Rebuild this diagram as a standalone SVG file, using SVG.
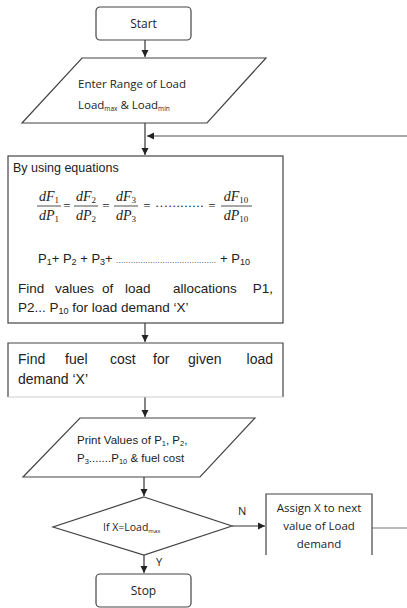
<svg xmlns="http://www.w3.org/2000/svg" width="407" height="608" viewBox="0 0 407 608">
<defs>
<marker id="ah" markerWidth="8" markerHeight="8" refX="7" refY="4" orient="auto" markerUnits="userSpaceOnUse">
<path d="M0,0.5 L7,4 L0,7.5 Z" fill="#222"/>
</marker>
<style>
.sh{fill:#fff;stroke:#444;stroke-width:1.2}
.c{fill:none;stroke:#333;stroke-width:1.2}
.cal{font-family:"Open Sans","Liberation Sans",sans-serif;fill:#222}
.ar{font-family:"Liberation Sans",Arial,sans-serif;fill:#222}
.m{font-family:"Liberation Serif","Times New Roman",serif;font-style:italic;fill:#222;font-size:14px}
.mn{font-family:"Liberation Serif","Times New Roman",serif;fill:#222;font-size:13px}
.fb{stroke:#222;stroke-width:0.8}
</style>
</defs>
<rect width="407" height="608" fill="#fff"/>
<g id="connectors">
<line class="c" x1="145" y1="40" x2="145" y2="57" marker-end="url(#ah)"/>
<line class="c" x1="145" y1="123" x2="145" y2="155" marker-end="url(#ah)"/>
<line class="c" x1="407" y1="136" x2="147" y2="136" marker-end="url(#ah)" style="stroke:#555"/>
<line class="c" x1="145" y1="323" x2="145" y2="342" marker-end="url(#ah)"/>
<line class="c" x1="145" y1="397" x2="145" y2="417" marker-end="url(#ah)"/>
<line class="c" x1="144" y1="477" x2="144" y2="496" marker-end="url(#ah)"/>
<line class="c" x1="232" y1="526" x2="265" y2="526" marker-end="url(#ah)"/>
<line class="c" x1="372" y1="528" x2="407" y2="528" style="stroke:#777"/>
<line class="c" x1="144" y1="555" x2="144" y2="573" marker-end="url(#ah)"/>
<text class="cal" x="238" y="515" font-size="11">N</text>
<text class="cal" x="156" y="566" font-size="11">Y</text>
</g>
<g id="start">
<rect class="sh" x="96" y="7" width="95" height="33" rx="4"/>
<text class="cal" x="143.5" y="28" font-size="12" text-anchor="middle">Start</text>
</g>
<g id="input">
<polygon class="sh" points="82,58 266,58 207,123 22,123"/>
<text class="cal" x="78" y="88" font-size="11.5">Enter Range of Load</text>
<text class="cal" x="78" y="109" font-size="11.5">Load<tspan font-size="6.5" dy="2">max</tspan><tspan dy="-2"> &amp; Load</tspan><tspan font-size="6.5" dy="2">min</tspan></text>
</g>
<g id="equations">
<rect class="sh" x="8" y="156" width="275" height="167"/>
<text class="ar" x="13" y="172" font-size="12.5">By using equations</text>
<g>
<text class="m" x="49" y="201" text-anchor="middle">dF<tspan font-size="9" font-style="normal" dy="2">1</tspan></text>
<line class="fb" x1="37" y1="206" x2="61" y2="206"/>
<text class="m" x="49" y="220" text-anchor="middle">dP<tspan font-size="9" font-style="normal" dy="2">1</tspan></text>
<text class="mn" x="67" y="210" text-anchor="middle">=</text>
<text class="m" x="86" y="201" text-anchor="middle">dF<tspan font-size="9" font-style="normal" dy="2">2</tspan></text>
<line class="fb" x1="74" y1="206" x2="98" y2="206"/>
<text class="m" x="86" y="220" text-anchor="middle">dP<tspan font-size="9" font-style="normal" dy="2">2</tspan></text>
<text class="mn" x="106" y="210" text-anchor="middle">=</text>
<text class="m" x="126" y="201" text-anchor="middle">dF<tspan font-size="9" font-style="normal" dy="2">3</tspan></text>
<line class="fb" x1="114" y1="206" x2="138" y2="206"/>
<text class="m" x="126" y="220" text-anchor="middle">dP<tspan font-size="9" font-style="normal" dy="2">3</tspan></text>
<text class="mn" x="147" y="210" text-anchor="middle">=</text>
<text class="mn" x="155" y="210" font-size="9">···</text>
<text class="mn" x="168" y="210" font-size="9" textLength="36" lengthAdjust="spacing">·········</text>
<text class="mn" x="212" y="210" text-anchor="middle">=</text>
<text class="m" x="236" y="201" text-anchor="middle">dF<tspan font-size="9" font-style="normal" dy="2">10</tspan></text>
<line class="fb" x1="221" y1="206" x2="252" y2="206"/>
<text class="m" x="236" y="220" text-anchor="middle">dP<tspan font-size="9" font-style="normal" dy="2">10</tspan></text>
</g>
<text class="ar" x="38" y="263" font-size="13">P<tspan font-size="9" dy="2">1</tspan><tspan dy="-2">+ P</tspan><tspan font-size="9" dy="2">2</tspan><tspan dy="-2"> + P</tspan><tspan font-size="9" dy="2">3</tspan><tspan dy="-2">+</tspan></text>
<text class="ar" x="116" y="263" font-size="8" textLength="100" lengthAdjust="spacing">.........................................</text>
<text class="ar" x="220" y="263" font-size="13">+ P<tspan font-size="9" dy="2">10</tspan></text>
<g font-size="13.5">
<text class="ar" x="18" y="293">Find</text>
<text class="ar" x="55" y="293">values</text>
<text class="ar" x="102" y="293">of</text>
<text class="ar" x="125" y="293">load</text>
<text class="ar" x="173" y="293">allocations</text>
<text class="ar" x="273" y="293" text-anchor="end">P1,</text>
<text class="ar" x="18" y="312">P2... P<tspan font-size="9" dy="2">10</tspan><tspan dy="-2"> for load demand ‘X’</tspan></text>
</g>
</g>
<g id="fuelcost">
<path class="sh" d="M8,397 L8,343 L283,343 L283,397"/>
<line x1="8" y1="397" x2="283" y2="397" stroke="#ccc" stroke-width="1"/>
<g font-size="14">
<text class="ar" x="18" y="364">Find</text>
<text class="ar" x="65" y="364">fuel</text>
<text class="ar" x="110" y="364">cost</text>
<text class="ar" x="153" y="364">for</text>
<text class="ar" x="188" y="364">given</text>
<text class="ar" x="273" y="364" text-anchor="end">load</text>
<text class="ar" x="18" y="384">demand ‘X’</text>
</g>
</g>
<g id="print">
<polygon class="sh" points="80,418 255,418 200,477 23,477"/>
<text class="ar" x="77" y="444" font-size="11.5">Print Values of P<tspan font-size="7.5" dy="2">1</tspan><tspan dy="-2">, P</tspan><tspan font-size="7.5" dy="2">2</tspan><tspan dy="-2">,</tspan></text>
<text class="ar" x="77" y="462" font-size="11.5">P<tspan font-size="7.5" dy="2">3</tspan><tspan dy="-2">.......P</tspan><tspan font-size="7.5" dy="2">10</tspan><tspan dy="-2"> &amp; fuel cost</tspan></text>
</g>
<g id="decision">
<polygon class="sh" points="144,497 232,526 144,555 53,527"/>
<text class="cal" x="103" y="531" font-size="10.5">If X=Load<tspan font-size="6" dy="2">max</tspan></text>
</g>
<g id="assign">
<path class="sh" d="M266,555 L266,494 L372,494 L372,555"/>
<text class="cal" x="319" y="512" font-size="11.5" text-anchor="middle">Assign X to next</text>
<text class="cal" x="319" y="530" font-size="11.5" text-anchor="middle">value of Load</text>
<text class="cal" x="319" y="548" font-size="11.5" text-anchor="middle">demand</text>
</g>
<g id="stop">
<rect class="sh" x="96" y="574" width="95" height="33" rx="4"/>
<text class="cal" x="143.5" y="595" font-size="12" text-anchor="middle">Stop</text>
</g>
</svg>
